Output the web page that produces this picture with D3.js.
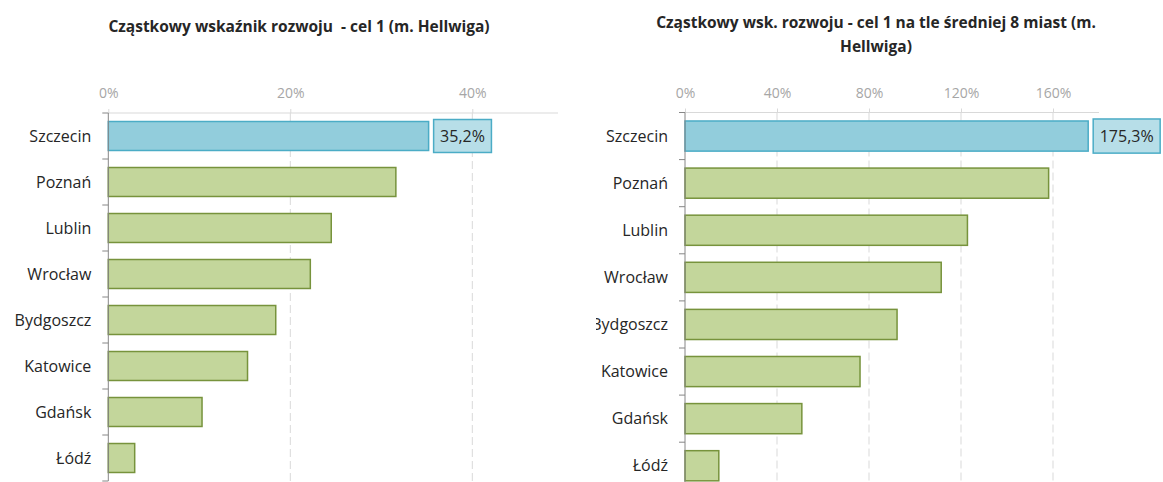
<!DOCTYPE html>
<html>
<head>
<meta charset="utf-8">
<script src="https://cdn.jsdelivr.net/npm/d3@7"></script>
<style>
  body { margin: 0; background: #fff; }
  svg { display: block; font-family: 'Open Sans', sans-serif; }
</style>
</head>
<body>
<div id="chart"></div>
<script>
// data
const cities = ['Szczecin', 'Poznań', 'Lublin', 'Wrocław', 'Bydgoszcz', 'Katowice', 'Gdańsk', 'Łódź'];
const indexValues = [0.352, 0.316, 0.245, 0.222, 0.184, 0.153, 0.103, 0.029];
const vsAverageValues = [1.753, 1.581, 1.228, 1.114, 0.922, 0.761, 0.508, 0.147];
const indexTicks = [0, 0.2, 0.4];
const vsAverageTicks = [0, 0.4, 0.8, 1.2, 1.6];
const indexTitle = ['Cząstkowy wskaźnik rozwoju  - cel 1 (m. Hellwiga)'];
const vsAverageTitle = ['Cząstkowy wsk. rozwoju - cel 1 na tle średniej 8 miast (m.', 'Hellwiga)'];

const W = 1163, H = 482;

const pl = d3.formatLocale({decimal: ',', thousands: ' ', grouping: [3], currency: ['', ' zł']});
const fmtLabel = pl.format('.1%');
const fmtTick = pl.format('.0%');

const svg = d3.select('#chart').append('svg')
  .attr('width', W)
  .attr('height', H);

function drawPanel(opts) {
  const clipId = 'clip-' + opts.id;
  svg.append('clipPath').attr('id', clipId)
    .append('rect')
    .attr('x', opts.clip[0]).attr('y', 0)
    .attr('width', opts.clip[1] - opts.clip[0]).attr('height', H);

  const g = svg.append('g').attr('clip-path', 'url(#' + clipId + ')');

  const x = d3.scaleLinear().domain([0, opts.max]).range(opts.xRange);
  const y = d3.scaleBand().domain(cities).range(opts.yRange)
    .paddingInner(opts.pad).paddingOuter(opts.pad / 2);

  const top = opts.yRange[0], bottom = opts.yRange[1];

  // title
  const title = svg.append('text')
    .attr('text-anchor', 'middle')
    .attr('font-weight', 'bold')
    .attr('font-size', 15.5)
    .attr('fill', '#262626')
    .style('white-space', 'pre');
  opts.title.forEach((line, i) => {
    title.append('tspan')
      .attr('x', opts.titleX)
      .attr('y', opts.titleY + i * 24)
      .text(line);
  });

  // dashed vertical gridlines
  g.selectAll('.grid')
    .data(opts.ticks.filter(d => d > 0))
    .enter().append('line')
    .attr('class', 'grid')
    .attr('x1', d => x(d)).attr('x2', d => x(d))
    .attr('y1', top).attr('y2', bottom)
    .attr('stroke', '#d9d9d9')
    .attr('stroke-dasharray', '8,4');

  // top value axis
  const xAxis = g.append('g')
    .attr('transform', 'translate(0,' + top + ')')
    .call(d3.axisTop(x).tickValues(opts.ticks).tickFormat(fmtTick).tickSize(4).tickPadding(11));
  xAxis.select('.domain').attr('stroke', '#d9d9d9').attr('d', 'M' + x(0) + ',0H' + opts.xRange[1]);
  xAxis.selectAll('.tick line').attr('stroke', '#d9d9d9');
  xAxis.selectAll('.tick text')
    .attr('fill', '#a6a6a6')
    .attr('font-size', 14)
    .attr('font-family', 'Open Sans, sans-serif');

  // bars
  g.selectAll('.bar')
    .data(opts.values)
    .enter().append('rect')
    .attr('class', 'bar')
    .attr('x', x(0))
    .attr('y', (d, i) => y(cities[i]))
    .attr('width', d => x(d) - x(0))
    .attr('height', y.bandwidth())
    .attr('fill', (d, i) => i === 0 ? '#92cddc' : '#c3d69b')
    .attr('stroke', (d, i) => i === 0 ? '#4bacc6' : '#77933c')
    .attr('stroke-width', 1.5);

  // category axis
  const yAxis = g.append('g')
    .attr('transform', 'translate(' + x(0) + ',0)');
  yAxis.append('line')
    .attr('x1', 0).attr('x2', 0)
    .attr('y1', top).attr('y2', bottom)
    .attr('stroke', '#868686');
  yAxis.selectAll('.ytick')
    .data(d3.range(cities.length + 1))
    .enter().append('line')
    .attr('class', 'ytick')
    .attr('x1', -6).attr('x2', 0)
    .attr('y1', i => top + i * y.step()).attr('y2', i => top + i * y.step())
    .attr('stroke', '#868686');
  yAxis.selectAll('.ylabel')
    .data(cities)
    .enter().append('text')
    .attr('class', 'ylabel')
    .attr('x', -17)
    .attr('y', d => y(d) + y.bandwidth() / 2)
    .attr('dy', '0.35em')
    .attr('text-anchor', 'end')
    .attr('font-size', 16)
    .attr('fill', '#262626')
    .text(d => d);

  // data label for the first bar
  const v = opts.values[0];
  const lab = g.append('g');
  const txt = lab.append('text')
    .attr('x', x(v) + 5 + 6.5)
    .attr('y', y(cities[0]) + y.bandwidth() / 2)
    .attr('dy', '0.35em')
    .attr('font-size', 16)
    .attr('fill', '#262626')
    .text(fmtLabel(v));
  const tw = txt.node().getComputedTextLength();
  lab.insert('rect', 'text')
    .attr('x', x(v) + 5)
    .attr('y', y(cities[0]) - 2)
    .attr('width', tw + 13)
    .attr('height', y.bandwidth() + 4)
    .attr('fill', '#b7dee8')
    .attr('stroke', '#4bacc6')
    .attr('stroke-width', 1.5);
}

drawPanel({
  id: 'index',
  values: indexValues,
  ticks: indexTicks,
  max: 0.5,
  xRange: [108.3, 563.3],
  yRange: [113, 481],
  pad: 0.37,
  clip: [0, 558],
  title: indexTitle,
  titleX: 299,
  titleY: 32
});

drawPanel({
  id: 'avg',
  values: vsAverageValues,
  ticks: vsAverageTicks,
  max: 1.8,
  xRange: [685, 685 + 4.5 * 92],
  yRange: [112.5, 112.5 + 8 * 47.1],
  pad: 0.36,
  clip: [596, W],
  title: vsAverageTitle,
  titleX: 876,
  titleY: 28
});
</script>
</body>
</html>
